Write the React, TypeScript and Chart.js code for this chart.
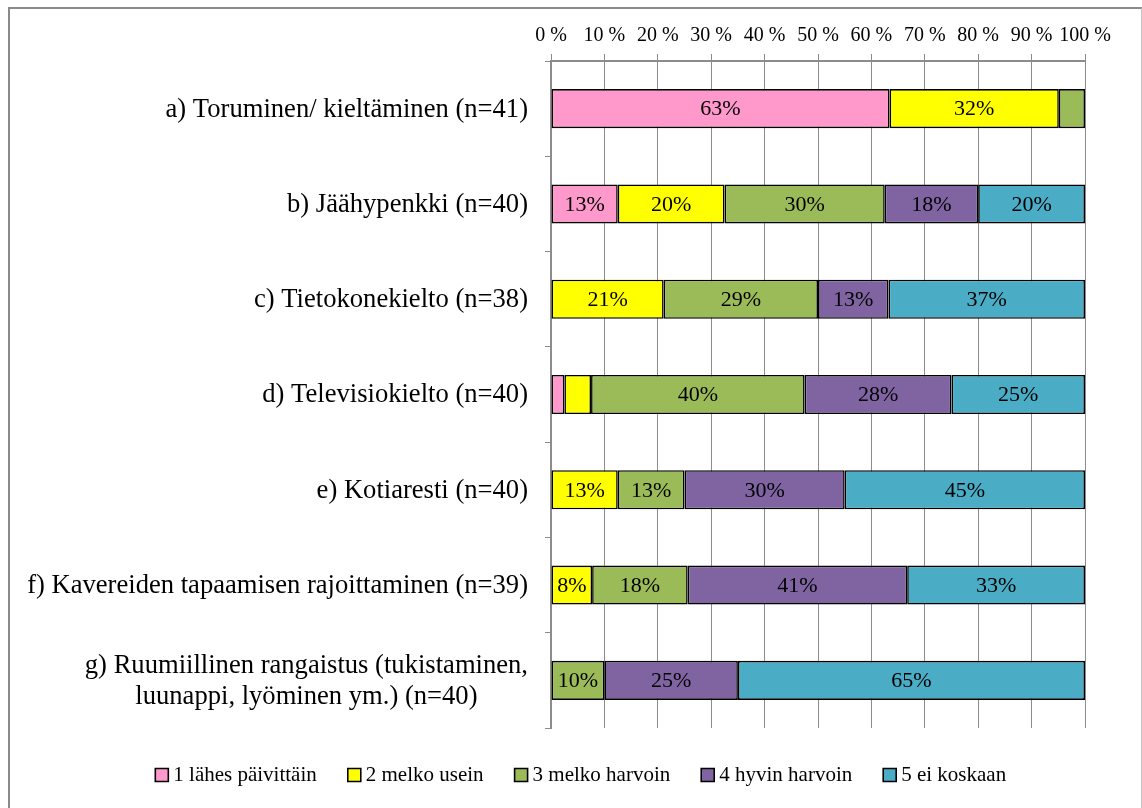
import React, { useEffect, useRef } from 'react';
import { Chart, registerables } from 'chart.js';

Chart.register(...registerables);

// ---- data ----
const categories: string[][] = [
  ['a) Toruminen/ kieltäminen (n=41)'],
  ['b) Jäähypenkki (n=40)'],
  ['c) Tietokonekielto (n=38)'],
  ['d) Televisiokielto (n=40)'],
  ['e) Kotiaresti (n=40)'],
  ['f) Kavereiden tapaamisen rajoittaminen (n=39)'],
  ['g) Ruumiillinen rangaistus (tukistaminen,', 'luunappi, lyöminen ym.) (n=40)'],
];

const seriesNames = ['1 lähes päivittäin', '2 melko usein', '3 melko harvoin', '4 hyvin harvoin', '5 ei koskaan'];

const s1Values = [63.4, 12.5, null, 2.5, null, null, null];
const s2Values = [31.7, 20.0, 21.1, 5.0, 12.5, 7.7, null];
const s3Values = [4.9, 30.0, 28.9, 40.0, 12.5, 17.9, 10.0];
const s4Values = [null, 17.5, 13.2, 27.5, 30.0, 41.1, 25.0];
const s5Values = [null, 20.0, 36.8, 25.0, 45.0, 33.3, 65.0];

const seriesValues = [s1Values, s2Values, s3Values, s4Values, s5Values];
const seriesColors = ['#FF99CC', '#FFFF00', '#9BBB59', '#8064A2', '#4BACC6'];

const xTickValues = [0, 10, 20, 30, 40, 50, 60, 70, 80, 90, 100];

const FONT = '"Liberation Serif", "Times New Roman", serif';
const Y_FONT = 26.6;
const LABEL_FONT = 22;
const GRID = '#8c8c8c';

const valueLabelPlugin = {
  id: 'valueLabels',
  afterDatasetsDraw(chart: any) {
    const ctx = chart.ctx;
    ctx.save();
    ctx.font = `${LABEL_FONT}px ${FONT}`;
    ctx.fillStyle = '#000';
    ctx.textAlign = 'center';
    ctx.textBaseline = 'middle';
    chart.data.datasets.forEach((ds: any, di: number) => {
      const meta = chart.getDatasetMeta(di);
      meta.data.forEach((el: any, i: number) => {
        const v = ds.data[i];
        if (v == null || v < 7) return;
        const cx = (el.x + el.base) / 2;
        ctx.fillText(Math.round(v) + '%', cx, el.y + 1);
      });
    });
    ctx.restore();
  },
};

const yLabelPlugin = {
  id: 'yLabels',
  afterDraw(chart: any) {
    const ctx = chart.ctx;
    const y = chart.scales.y;
    ctx.save();
    ctx.font = `${Y_FONT}px ${FONT}`;
    ctx.fillStyle = '#000';
    ctx.textAlign = 'center';
    ctx.textBaseline = 'middle';
    const right = y.right - 23;
    const lh = 31;
    categories.forEach((lines, i) => {
      const cy = y.getPixelForValue(i);
      const maxW = Math.max(...lines.map((l) => ctx.measureText(l).width));
      const cx = right - maxW / 2;
      lines.forEach((l, j) => {
        ctx.fillText(l, cx, cy + 1 + (j - (lines.length - 1) / 2) * lh);
      });
    });
    ctx.restore();
  },
};

export default function App() {
  const ref = useRef<HTMLCanvasElement | null>(null);

  useEffect(() => {
    if (!ref.current) return;
    const chart = new Chart(ref.current, {
      type: 'bar',
      data: {
        labels: categories.map((c) => c.join(' ')),
        datasets: seriesNames.map((name, i) => ({
          label: name,
          data: seriesValues[i] as any,
          backgroundColor: seriesColors[i],
          borderColor: '#000',
          borderWidth: 1.6,
          borderSkipped: false,
          barPercentage: 0.41,
          categoryPercentage: 1,
          pointStyle: 'rect',
        })),
      },
      options: {
        indexAxis: 'y',
        responsive: false,
        animation: false,
        devicePixelRatio: 1,
        layout: { padding: { left: 16, right: 0, top: 0, bottom: 12.5 } },
        font: { family: FONT },
        scales: {
          x: {
            type: 'linear',
            position: 'top',
            stacked: true,
            min: 0,
            max: 100,
            afterBuildTicks: (s: any) => {
              s.ticks = xTickValues.map((v) => ({ value: v }));
            },
            afterFit: (s: any) => {
              s.height = 52;
            },
            ticks: {
              padding: 6,
              color: '#000',
              font: { family: FONT, size: 20 },
              callback: (v: any) => v + ' %',
              maxRotation: 0,
              autoSkip: false,
            },
            grid: { color: GRID, lineWidth: 1, tickLength: 7, drawTicks: true },
            border: { color: GRID, width: 2 },
          },
          y: {
            type: 'category',
            stacked: true,
            offset: true,
            afterFit: (s: any) => {
              s.width = 525;
            },
            ticks: { display: false },
            grid: { drawOnChartArea: false, drawTicks: true, tickLength: 6, offset: true, color: GRID, lineWidth: 1 },
            border: { color: GRID, width: 2 },
          },
          yRightSpace: {
            type: 'linear',
            position: 'right',
            min: 0,
            max: 1,
            afterFit: (s: any) => {
              s.width = 56;
            },
            ticks: { display: false },
            grid: { display: false },
            border: { display: false },
          },
        },
        plugins: {
          tooltip: { enabled: false },
          legend: {
            position: 'bottom',
            align: 'center',
            labels: {
              color: '#000',
              font: { family: FONT, size: 21 },
              usePointStyle: true,
              pointStyle: 'rect',
              boxWidth: 2,
              boxHeight: 13,
              padding: 36.5,
            },
          },
        },
      } as any,
      plugins: [valueLabelPlugin, yLabelPlugin],
    });
    return () => chart.destroy();
  }, []);

  return (
    <div
      style={{
        position: 'absolute',
        left: 8,
        top: 7,
        width: 1134,
        height: 801,
        boxSizing: 'border-box',
        borderLeft: '2px solid #8a8a8a',
        borderTop: '2px solid #8a8a8a',
        borderRight: '1px solid #c4c4c4',
        background: '#fff',
        overflow: 'hidden',
      }}
    >
      <canvas ref={ref} width={1131} height={799} style={{ display: 'block', width: 1131, height: 799 }} />
    </div>
  );
}
